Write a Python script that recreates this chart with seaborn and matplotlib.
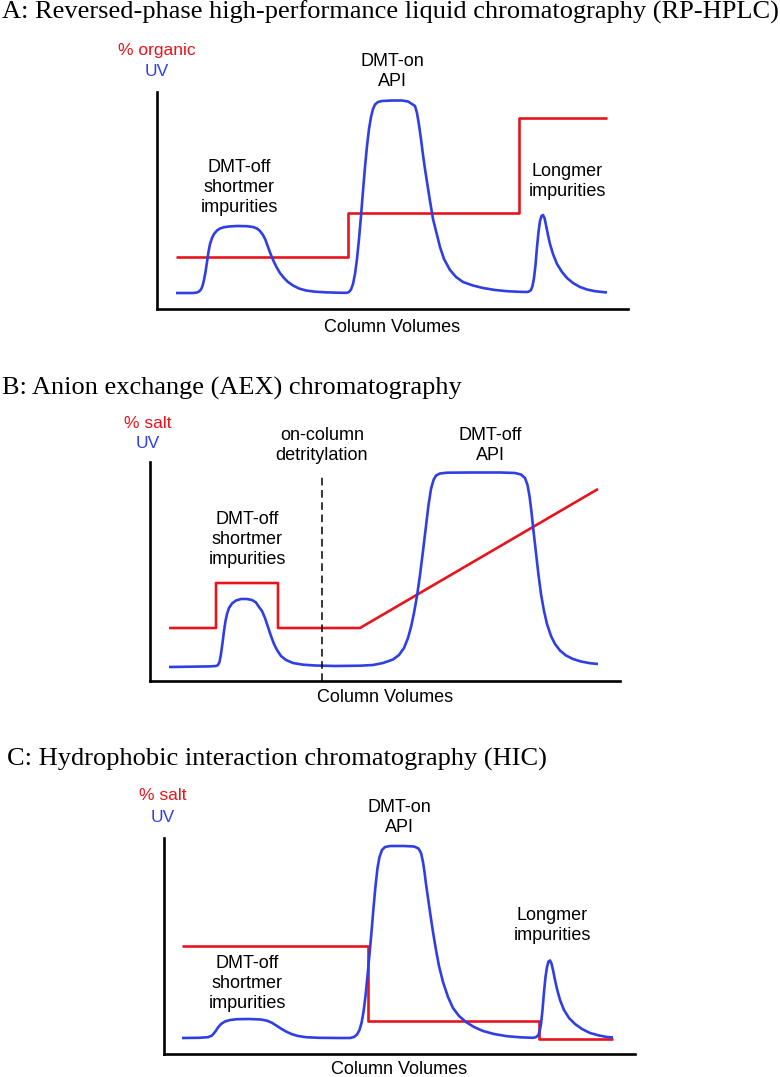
import matplotlib
matplotlib.use("Agg")
import matplotlib.pyplot as plt
import seaborn as sns
import pandas as pd

# ---------------- data (arbitrary units: column volumes / signal) ----------------
titles = [
    "A: Reversed-phase high-performance liquid chromatography (RP-HPLC)",
    "B: Anion exchange (AEX) chromatography",
    "C: Hydrophobic interaction chromatography (HIC)",
]
gradient_labels = ["% organic", "% salt", "% salt"]

# Panel A
a_uv_x = [19, 36, 40, 42, 44, 45.5, 47, 48.5, 50, 51.5, 53, 55, 57, 60, 63, 67, 72, 80, 90, 96, 100, 103, 106,
          108.5, 111, 114, 117, 120, 123, 127, 131, 136, 142, 149, 158, 170, 185,
          190, 192, 194, 196, 198, 200, 202, 204, 206, 208, 210, 212, 214, 216, 218, 221, 225, 235, 245, 251,
          255, 258, 260, 262, 264, 266, 268, 270, 273, 276, 280, 283, 287, 293, 299, 306, 316, 326, 338, 350,
          362, 370,
          372, 374, 375.5, 377, 378.5, 380, 381.5, 383, 384.5, 386, 387.5, 389, 391, 393, 396, 400, 405, 410,
          416, 423, 430, 438, 450]
a_uv_y = [16, 16, 16.5, 17.5, 19.5, 23, 29, 37, 47, 57, 65, 71, 75, 78.5, 80.5, 81.8, 82.5, 83, 82.8, 82, 80.5,
          78, 74, 69, 62, 54, 47, 41, 36, 31, 27, 23.5, 20.5, 18.5, 17.3, 16.6, 16.2,
          16.2, 17, 19.5, 25, 35, 50, 70, 93, 118, 142, 163, 180, 192, 200, 204.5, 207, 208, 208.5, 208.5, 207.5,
          205, 203, 196, 184, 170, 154, 140, 127, 108, 90, 74, 62, 50, 39, 32, 27, 23.5, 21, 19, 17.8,
          17.2, 17,
          17.5, 19, 23, 31, 44, 62, 77, 88, 93, 94, 91, 84, 74, 65, 55, 45, 37, 31,
          26, 22, 19.5, 17.8, 16.5]
a_grad_x = [19, 191, 191, 362, 362, 450]
a_grad_y = [52, 52, 96, 96, 191, 191]

# Panel B
b_uv_x = [19, 40, 60, 66, 68, 69.5, 71, 72.5, 74, 75.5, 77, 79, 82, 86, 91, 97, 102, 106, 109, 112, 115, 118,
          121, 124, 127, 131, 136, 143, 153, 165, 185,
          210, 223, 233, 243, 249, 254, 258, 261, 264, 267, 270, 273, 276, 278.5, 281, 283.5, 286, 290, 297,
          320, 350, 365, 371, 375, 377.5, 379.5, 381.5, 383.5, 386, 388.5, 391, 394, 397, 401, 405, 410, 416,
          423, 431, 440, 448]
b_uv_y = [14, 14.3, 14.6, 15, 16, 19, 27, 38, 50, 60, 67, 73, 77.5, 80.5, 82, 82, 81, 78.5, 74, 70, 63, 54,
          45, 37, 31, 25, 21, 18, 16.3, 15.5, 15,
          15.3, 16, 18, 21.5, 26, 33, 43, 54, 68, 85, 106, 130, 155, 176, 192, 201, 205.5, 207.5, 208.3,
          208.5, 208.5, 208, 206.5, 203, 196, 185, 169, 150, 128, 106, 87, 70, 57, 45, 37, 30.5, 25.5,
          22, 19.5, 17.8, 17]
b_grad_x = [19, 66, 66, 128, 128, 210, 448]
b_grad_y = [53, 53, 98, 98, 53, 53, 192]
b_detrit_x = [172, 172]
b_detrit_y = [0, 204]

# Panel C
c_uv_x = [18, 35, 44, 48, 51, 54, 57, 61, 66, 73, 85, 97, 103, 108, 113, 118, 123, 128, 134, 142, 155, 175,
          186, 190, 193, 195.5, 197.5, 199.5, 201.5, 203.5, 205.5, 207.5, 209.5, 211.5, 213.5, 215.5, 218, 221,
          226, 240, 250, 254.5, 257, 259, 260.5, 262, 264, 266, 269, 272, 275, 279, 284, 289, 295, 302, 310,
          319, 330, 343, 356, 369,
          372, 374, 375.5, 377, 378.5, 380, 381.5, 383, 384.5, 386, 387.5, 389, 391, 393, 396, 400, 405, 411,
          418, 426, 435, 443, 449]
c_uv_y = [16, 16.2, 16.8, 18.5, 22, 26.5, 30, 32.5, 34, 34.8, 35, 34.5, 33.3, 31.2, 28, 24.8, 22, 19.8, 18,
          16.8, 16.2, 16,
          16, 17, 19.5, 24, 31, 42, 58, 78, 100, 122, 146, 168, 186, 197, 204, 207,
          208, 208, 207.5, 205.5, 201, 192, 182, 170, 156, 142, 122, 104, 88, 72, 57, 46, 38, 32, 27,
          23, 20, 17.8, 16.7, 16.2,
          16.8, 18.5, 22, 30, 44, 62, 77, 87, 92.5, 93.5, 90.5, 84, 74, 65, 54, 44, 36, 30,
          25, 21, 18.5, 17, 16.5]
c_grad_x = [18, 204, 204, 375, 375, 449]
c_grad_y = [108, 108, 33, 33, 15, 15]

# ---------------- style ----------------
sns.set_theme(style="white")
plt.rcParams["font.family"] = ["Liberation Sans", "DejaVu Sans"]
plt.rcParams["text.color"] = "black"

W, H = 780, 1077
fig = plt.figure(figsize=(W / 100, H / 100), dpi=100)

BLUE = "#2f3fe3"
RED = "#e8141c"
LW = 1.9


def fx(px):
    return px / W


def fy(py):
    return 1 - py / H


# axes boxes in pixels: (x origin, y origin, right, top)
boxes = [(157, 309, 628, 92), (150, 681, 620, 462), (164, 1054, 635, 838)]
uv_sets = [(a_uv_x, a_uv_y), (b_uv_x, b_uv_y), (c_uv_x, c_uv_y)]
grad_sets = [(a_grad_x, a_grad_y), (b_grad_x, b_grad_y), (c_grad_x, c_grad_y)]

axes = []
for (x0, y0, x1, y1), (ux, uy), (gx, gy) in zip(boxes, uv_sets, grad_sets):
    ax = fig.add_axes([fx(x0), fy(y0), (x1 - x0) / W, (y0 - y1) / H])
    uv = pd.DataFrame({"cv": ux, "signal": uy})
    gr = pd.DataFrame({"cv": gx, "signal": gy})
    sns.lineplot(data=gr, x="cv", y="signal", sort=False, estimator=None, color=RED,
                 linewidth=LW, ax=ax)
    sns.lineplot(data=uv, x="cv", y="signal", sort=False, estimator=None, color=BLUE,
                 linewidth=LW, ax=ax)
    for ln in ax.lines:
        ln.set_solid_joinstyle("round")
        ln.set_solid_capstyle("butt")
    ax.set_xlim(0, x1 - x0)
    ax.set_ylim(0, y0 - y1)
    ax.set_xticks([])
    ax.set_yticks([])
    ax.set_xlabel("")
    ax.set_ylabel("")
    for s in ["top", "right"]:
        ax.spines[s].set_visible(False)
    for s in ["left", "bottom"]:
        ax.spines[s].set_color("black")
        ax.spines[s].set_linewidth(1.9)
    ax.patch.set_alpha(0)
    axes.append(ax)

# dashed detritylation line in B
sns.lineplot(x=b_detrit_x, y=b_detrit_y, color="black", linewidth=1.1, ax=axes[1],
             estimator=None, sort=False)
axes[1].lines[-1].set_dashes((5, 3))

# ---------------- text ----------------
serif = ["Liberation Serif", "DejaVu Serif"]
TS = 19
fig.text(fx(2), fy(19), titles[0], family=serif, fontsize=TS, va="baseline", ha="left")
fig.text(fx(2), fy(395), titles[1], family=serif, fontsize=TS, va="baseline", ha="left")
fig.text(fx(7), fy(766), titles[2], family=serif, fontsize=TS, va="baseline", ha="left")

FS = 13


def label(px, py, s, color="black", size=FS):
    fig.text(fx(px), fy(py), s, fontsize=size, ha="center", va="center", color=color)


# axis labels (gradient / UV)
label(157, 51, gradient_labels[0], RED, 12.5)
label(157, 71, "UV", BLUE, 12.5)
label(148, 423, gradient_labels[1], RED, 12.5)
label(148, 443, "UV", BLUE, 12.5)
label(163, 796, gradient_labels[2], RED, 12.5)
label(163, 817, "UV", BLUE, 12.5)

# Column volumes
label(392, 327, "Column Volumes")
label(385, 697, "Column Volumes")
label(399, 1070, "Column Volumes")

# Panel A annotations
label(392, 62, "DMT-on")
label(392, 82, "API")
label(239, 168, "DMT-off")
label(239, 188, "shortmer")
label(239, 208, "impurities")
label(567, 172, "Longmer")
label(567, 191, "impurities")

# Panel B annotations
label(322, 435, "on-column")
label(322, 455, "detritylation")
label(490, 435, "DMT-off")
label(490, 455, "API")
label(247, 520, "DMT-off")
label(247, 540, "shortmer")
label(247, 560, "impurities")

# Panel C annotations
label(399, 807, "DMT-on")
label(399, 827, "API")
label(552, 916, "Longmer")
label(552, 936, "impurities")
label(247, 963, "DMT-off")
label(247, 984, "shortmer")
label(247, 1003, "impurities")

fig.savefig("out.png", dpi=100)
